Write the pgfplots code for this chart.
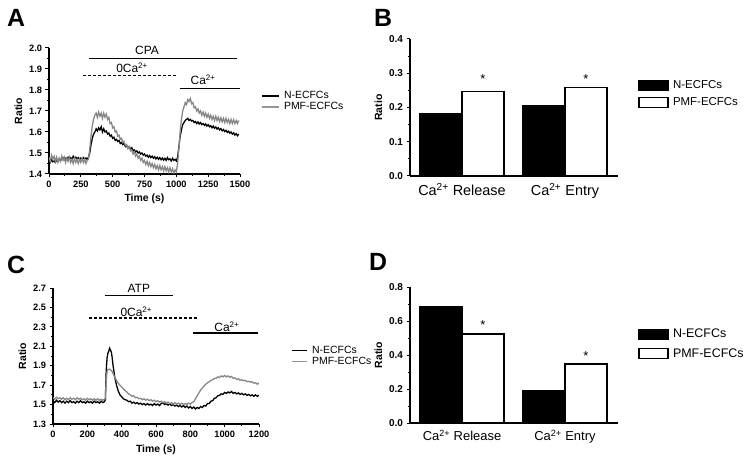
\documentclass[border=0pt]{standalone}
\usepackage{pgfplots}
\pgfplotsset{compat=1.18}
\usepackage{fontspec}
\setmainfont{Liberation Sans}
\definecolor{trgray}{RGB}{135,135,135}
\definecolor{lggray}{RGB}{150,150,150}

\pgfplotsset{
  common/.style={
    scale only axis,
    axis x line*=bottom, axis y line*=left,
    axis line style={line width=1.2pt, black},
    tick align=outside,
    major tick length=3.5bp, minor tick length=2bp,
    every tick/.style={black, line width=1pt},
    label style={font=\fontsize{10.5}{12}\selectfont\bfseries},
    clip mode=individual,
  },
  trace/.style={
    common,
    tick label style={font=\fontsize{9.3}{10}\selectfont\bfseries},
    minor x tick num=1, minor y tick num=1,
    xlabel={Time (s)}, ylabel={Ratio},
    legend style={draw=none, fill=none, anchor=west, row sep=0pt,
      nodes={inner sep=0.6bp, text height=7.8bp, text depth=2.2bp,
             font=\fontsize{10.5}{11}\selectfont},
      /tikz/every odd column/.append style={column sep=4bp}},
    legend cell align=left,
  },
  barax/.style={
    common,
    ybar, bar width=0.408,
    xmin=-0.505, xmax=1.515, ymin=0,
    xtick={0,1}, xtick style={draw=none},
    minor y tick num=1,
    yticklabel style={font=\fontsize{10}{11}\selectfont\bfseries},
    ylabel={Ratio},
    legend style={draw=none, fill=none, anchor=west,
      nodes={inner sep=1bp},
      /tikz/every odd column/.append style={column sep=3.5bp}},
    legend cell align=left,
    legend image code/.code={\draw[#1, line width=1.3pt] (0bp,-5bp) rectangle (29bp,5bp);},
  },
}

\begin{document}
\begin{tikzpicture}
\useasboundingbox (0bp,0bp) rectangle (747bp,462bp);

% panel letters
\node[font=\fontsize{25}{25}\selectfont\bfseries] at (16bp,444bp) {A};
\node[font=\fontsize{25}{25}\selectfont\bfseries] at (383bp,444bp) {B};
\node[font=\fontsize{25}{25}\selectfont\bfseries] at (16bp,197bp) {C};
\node[font=\fontsize{25}{25}\selectfont\bfseries] at (378bp,200bp) {D};

% ---------------- Panel A ----------------
\begin{axis}[trace,
  at={(49bp,288bp)}, anchor=south west, width=191bp, height=126bp,
  xmin=0, xmax=1500, ymin=1.4, ymax=2.0,
  xtick={0,250,500,750,1000,1250,1500},
  xticklabels={0,250,500,750,1000,1250,1500},
  ytick={1.4,1.5,1.6,1.7,1.8,1.9,2.0},
  yticklabels={1.4,1.5,1.6,1.7,1.8,1.9,2.0},
  legend style={at={(rel axis cs:1.094,0.575)}},
  legend image code/.code={\draw[#1] (0bp,0bp) -- (17bp,0bp);},
]
\addplot[black, line width=1.3pt] coordinates {
(0,1.465)(10,1.455)(20,1.47)(30,1.458)(40,1.462)(50,1.455)(60,1.468)(70,1.46)(80,1.472)(90,1.465)
(100,1.47)(110,1.478)(120,1.468)(130,1.475)(140,1.47)(150,1.48)(160,1.472)(170,1.478)(180,1.47)(190,1.485)
(200,1.475)(210,1.48)(220,1.472)(230,1.478)(240,1.47)(250,1.476)(260,1.468)(270,1.478)(280,1.472)(290,1.476)
(300,1.47)(310,1.48)(320,1.50)(330,1.54)(340,1.57)(350,1.59)(360,1.60)(370,1.615)(380,1.605)(390,1.62)
(400,1.61)(410,1.625)(420,1.60)(430,1.615)(440,1.60)(450,1.605)(460,1.59)(470,1.595)(480,1.58)(490,1.585)
(500,1.57)(510,1.575)(520,1.56)(530,1.565)(540,1.555)(550,1.56)(560,1.545)(570,1.55)(580,1.54)(590,1.545)
(600,1.53)(610,1.535)(620,1.525)(630,1.53)(640,1.52)(650,1.525)(660,1.51)(670,1.515)(680,1.505)(690,1.51)
(700,1.50)(710,1.505)(720,1.495)(730,1.50)(740,1.49)(750,1.495)(760,1.485)(770,1.49)(780,1.48)(790,1.488)
(800,1.478)(810,1.485)(820,1.475)(830,1.482)(840,1.472)(850,1.48)(860,1.47)(870,1.478)(880,1.468)(890,1.476)
(900,1.466)(910,1.475)(920,1.465)(930,1.478)(940,1.468)(950,1.472)(960,1.462)(970,1.475)(980,1.465)(990,1.47)
(1000,1.462)(1010,1.48)(1020,1.53)(1030,1.58)(1040,1.61)(1050,1.635)(1060,1.645)(1070,1.655)(1080,1.66)(1090,1.665)
(1100,1.655)(1110,1.66)(1120,1.652)(1130,1.655)(1140,1.645)(1150,1.65)(1160,1.64)(1170,1.648)(1180,1.638)(1190,1.645)
(1200,1.635)(1210,1.64)(1220,1.632)(1230,1.638)(1240,1.628)(1250,1.635)(1260,1.625)(1270,1.63)(1280,1.62)(1290,1.628)
(1300,1.618)(1310,1.624)(1320,1.614)(1330,1.62)(1340,1.61)(1350,1.616)(1360,1.606)(1370,1.612)(1380,1.602)(1390,1.608)
(1400,1.598)(1410,1.604)(1420,1.594)(1430,1.60)(1440,1.59)(1450,1.596)(1460,1.585)(1470,1.592)(1480,1.582)(1490,1.59)
};
\addlegendentry{N-ECFCs}
\addplot[trgray, line width=1.3pt, forget plot] coordinates {
(0,1.48)(10,1.46)(20,1.49)(30,1.47)(40,1.485)(50,1.46)(60,1.48)(70,1.455)(80,1.475)(90,1.46)
(100,1.485)(110,1.465)(120,1.48)(130,1.455)(140,1.475)(150,1.46)(160,1.48)(170,1.455)(180,1.47)(190,1.45)
(200,1.475)(210,1.455)(220,1.47)(230,1.45)(240,1.47)(250,1.455)(260,1.475)(270,1.455)(280,1.47)(290,1.45)
(300,1.465)(310,1.47)(320,1.52)(330,1.58)(340,1.63)(350,1.66)(360,1.68)(370,1.69)(380,1.67)(390,1.695)
(400,1.675)(410,1.69)(420,1.665)(430,1.69)(440,1.67)(450,1.685)(460,1.66)(470,1.67)(480,1.64)(490,1.645)
(500,1.62)(510,1.625)(520,1.60)(530,1.605)(540,1.58)(550,1.585)(560,1.565)(570,1.57)(580,1.55)(590,1.555)
(600,1.535)(610,1.54)(620,1.52)(630,1.53)(640,1.51)(650,1.515)(660,1.495)(670,1.505)(680,1.485)(690,1.495)
(700,1.475)(710,1.485)(720,1.465)(730,1.475)(740,1.455)(750,1.465)(760,1.445)(770,1.46)(780,1.44)(790,1.455)
(800,1.435)(810,1.45)(820,1.43)(830,1.445)(840,1.425)(850,1.44)(860,1.42)(870,1.44)(880,1.42)(890,1.435)
(900,1.415)(910,1.435)(920,1.415)(930,1.43)(940,1.41)(950,1.43)(960,1.41)(970,1.425)(980,1.405)(990,1.42)
(1000,1.41)(1010,1.45)(1020,1.52)(1030,1.60)(1040,1.66)(1050,1.70)(1060,1.72)(1070,1.74)(1080,1.73)(1090,1.755)
(1100,1.745)(1110,1.76)(1120,1.735)(1130,1.74)(1140,1.715)(1150,1.72)(1160,1.70)(1170,1.71)(1180,1.69)(1190,1.70)
(1200,1.68)(1210,1.695)(1220,1.675)(1230,1.69)(1240,1.67)(1250,1.685)(1260,1.665)(1270,1.68)(1280,1.66)(1290,1.675)
(1300,1.655)(1310,1.675)(1320,1.655)(1330,1.67)(1340,1.65)(1350,1.668)(1360,1.648)(1370,1.665)(1380,1.645)(1390,1.665)
(1400,1.645)(1410,1.66)(1420,1.64)(1430,1.66)(1440,1.64)(1450,1.658)(1460,1.64)(1470,1.655)(1480,1.64)(1490,1.655)
};
\addlegendimage{lggray, line width=1.3pt}
\addlegendentry{PMF-ECFCs}
% annotations
\draw[line width=1.1pt] (axis cs:314,1.952) -- (axis cs:1476,1.952);
\node[font=\fontsize{12}{12}\selectfont] at (axis cs:770,1.99) {CPA};
\draw[line width=1.1pt, dash pattern=on 3bp off 2bp] (axis cs:267,1.867) -- (axis cs:1013,1.867);
\node[font=\fontsize{12}{12}\selectfont] at (axis cs:652,1.905) {0Ca\textsuperscript{2+}};
\draw[line width=1.1pt] (axis cs:1029,1.805) -- (axis cs:1500,1.805);
\node[font=\fontsize{12}{12}\selectfont] at (axis cs:1210,1.848) {Ca\textsuperscript{2+}};
\end{axis}

% ---------------- Panel B ----------------
\begin{axis}[barax,
  at={(410bp,286bp)}, anchor=south west, width=208bp, height=137bp,
  ymax=0.4,
  ytick={0,0.1,0.2,0.3,0.4}, yticklabels={0.0,0.1,0.2,0.3,0.4},
  xticklabels={Ca\textsuperscript{2+} Release, Ca\textsuperscript{2+} Entry},
  xticklabel style={font=\fontsize{14.5}{15}\selectfont},
  legend style={at={(rel axis cs:1.082,0.599)}, row sep=5bp,
    nodes={font=\fontsize{11.5}{12}\selectfont}},
]
\addplot[fill=black, draw=black, line width=1.3pt, bar shift=-0.204] coordinates {(0,0.181) (1,0.205)};
\addlegendentry{N-ECFCs}
\addplot[fill=white, draw=black, line width=1.3pt, bar shift=0.204] coordinates {(0,0.246) (1,0.259)};
\addlegendentry{PMF-ECFCs}
\node[font=\fontsize{13}{13}\selectfont] at (axis cs:0.204,0.283) {*};
\node[font=\fontsize{13}{13}\selectfont] at (axis cs:1.204,0.283) {*};
\end{axis}

% ---------------- Panel C ----------------
\begin{axis}[trace,
  at={(53bp,38bp)}, anchor=south west, width=206bp, height=136bp,
  xmin=0, xmax=1200, ymin=1.3, ymax=2.7,
  xtick={0,200,400,600,800,1000,1200},
  xticklabels={0,200,400,600,800,1000,1200},
  ytick={1.3,1.5,1.7,1.9,2.1,2.3,2.5,2.7},
  yticklabels={1.3,1.5,1.7,1.9,2.1,2.3,2.5,2.7},
  legend style={at={(rel axis cs:1.141,0.5)}},
  legend image code/.code={\draw[#1] (0bp,0bp) -- (15bp,0bp);},
]
\addplot[black, line width=1.3pt] coordinates {
(0,1.54)(10,1.52)(20,1.545)(30,1.525)(40,1.54)(50,1.52)(60,1.535)(70,1.515)(80,1.535)(90,1.52)
(100,1.54)(110,1.52)(120,1.53)(130,1.515)(140,1.535)(150,1.52)(160,1.54)(170,1.52)(180,1.53)(190,1.515)
(200,1.535)(210,1.52)(220,1.53)(230,1.515)(240,1.535)(250,1.52)(260,1.53)(270,1.515)(280,1.535)(290,1.52)
(300,1.53)(305,1.55)(310,1.85)(315,1.98)(320,2.03)(325,2.05)(330,2.08)(335,2.06)(340,2.04)(345,1.98)
(350,1.90)(360,1.78)(370,1.70)(380,1.64)(390,1.60)(400,1.58)(410,1.56)(420,1.55)(430,1.545)(440,1.53)
(450,1.535)(460,1.515)(470,1.525)(480,1.51)(490,1.52)(500,1.505)(510,1.515)(520,1.50)(530,1.51)(540,1.495)
(550,1.51)(560,1.495)(570,1.505)(580,1.49)(590,1.51)(600,1.495)(610,1.505)(620,1.49)(630,1.51)(640,1.52)
(650,1.50)(660,1.51)(670,1.495)(680,1.505)(690,1.49)(700,1.50)(710,1.485)(720,1.495)(730,1.48)(740,1.49)
(750,1.475)(760,1.49)(770,1.47)(780,1.485)(790,1.465)(800,1.48)(810,1.46)(820,1.475)(830,1.455)(840,1.47)
(850,1.46)(860,1.48)(870,1.47)(880,1.49)(890,1.485)(900,1.51)(910,1.51)(920,1.535)(930,1.54)(940,1.565)
(950,1.57)(960,1.59)(970,1.595)(980,1.61)(990,1.605)(1000,1.625)(1010,1.615)(1020,1.63)(1030,1.62)(1040,1.635)
(1050,1.615)(1060,1.625)(1070,1.61)(1080,1.62)(1090,1.605)(1100,1.615)(1110,1.60)(1120,1.61)(1130,1.595)(1140,1.605)
(1150,1.59)(1160,1.60)(1170,1.585)(1180,1.60)(1190,1.585)(1200,1.595)
};
\addlegendentry{N-ECFCs}
\addplot[trgray, line width=1.3pt, forget plot] coordinates {
(0,1.57)(10,1.555)(20,1.575)(30,1.56)(40,1.57)(50,1.555)(60,1.57)(70,1.55)(80,1.565)(90,1.55)
(100,1.57)(110,1.555)(120,1.565)(130,1.55)(140,1.57)(150,1.555)(160,1.565)(170,1.55)(180,1.56)(190,1.545)
(200,1.565)(210,1.55)(220,1.56)(230,1.545)(240,1.56)(250,1.545)(260,1.56)(270,1.545)(280,1.555)(290,1.545)
(300,1.555)(305,1.56)(310,1.75)(315,1.84)(320,1.86)(330,1.865)(340,1.85)(350,1.82)(360,1.78)(370,1.75)
(380,1.72)(390,1.70)(400,1.68)(410,1.66)(420,1.645)(430,1.63)(440,1.61)(450,1.60)(460,1.585)(470,1.59)
(480,1.57)(490,1.575)(500,1.56)(510,1.565)(520,1.55)(530,1.56)(540,1.545)(550,1.555)(560,1.54)(570,1.55)
(580,1.535)(590,1.545)(600,1.53)(610,1.54)(620,1.525)(630,1.535)(640,1.52)(650,1.53)(660,1.515)(670,1.525)
(680,1.51)(690,1.52)(700,1.505)(710,1.52)(720,1.505)(730,1.515)(740,1.50)(750,1.515)(760,1.50)(770,1.51)
(780,1.50)(790,1.515)(800,1.505)(810,1.52)(820,1.53)(830,1.56)(840,1.59)(850,1.62)(860,1.65)(870,1.67)
(880,1.69)(890,1.71)(900,1.725)(910,1.735)(920,1.75)(930,1.755)(940,1.77)(950,1.77)(960,1.785)(970,1.78)
(980,1.795)(990,1.785)(1000,1.80)(1010,1.785)(1020,1.795)(1030,1.78)(1040,1.79)(1050,1.77)(1060,1.775)(1070,1.76)
(1080,1.765)(1090,1.75)(1100,1.755)(1110,1.745)(1120,1.75)(1130,1.735)(1140,1.74)(1150,1.73)(1160,1.735)(1170,1.72)
(1180,1.725)(1190,1.71)(1200,1.72)
};
\addlegendimage{lggray, line width=1.3pt}
\addlegendentry{PMF-ECFCs}
\draw[line width=1.1pt] (axis cs:300,2.621) -- (axis cs:700,2.621);
\node[font=\fontsize{12}{12}\selectfont] at (axis cs:500,2.70) {ATP};
\draw[line width=1.1pt, dash pattern=on 3bp off 2bp] (axis cs:210,2.391) -- (axis cs:840,2.391);
\node[font=\fontsize{12}{12}\selectfont] at (axis cs:485,2.455) {0Ca\textsuperscript{2+}};
\draw[line width=1.1pt] (axis cs:815,2.237) -- (axis cs:1195,2.237);
\node[font=\fontsize{12}{12}\selectfont] at (axis cs:1013,2.30) {Ca\textsuperscript{2+}};
\end{axis}

% ---------------- Panel D ----------------
\begin{axis}[barax,
  at={(410bp,39bp)}, anchor=south west, width=208bp, height=136bp,
  ymax=0.8,
  ytick={0,0.2,0.4,0.6,0.8}, yticklabels={0.0,0.2,0.4,0.6,0.8},
  xticklabels={Ca\textsuperscript{2+} Release, Ca\textsuperscript{2+} Entry},
  xticklabel style={font=\fontsize{13}{14}\selectfont},
  legend style={at={(rel axis cs:1.082,0.581)}, row sep=7bp,
    nodes={font=\fontsize{12.5}{13}\selectfont}},
]
\addplot[fill=black, draw=black, line width=1.3pt, bar shift=-0.204] coordinates {(0,0.683) (1,0.188)};
\addlegendentry{N-ECFCs}
\addplot[fill=white, draw=black, line width=1.3pt, bar shift=0.204] coordinates {(0,0.524) (1,0.347)};
\addlegendentry{PMF-ECFCs}
\node[font=\fontsize{13}{13}\selectfont] at (axis cs:0.204,0.575) {*};
\node[font=\fontsize{13}{13}\selectfont] at (axis cs:1.204,0.395) {*};
\end{axis}
\end{tikzpicture}
\end{document}
